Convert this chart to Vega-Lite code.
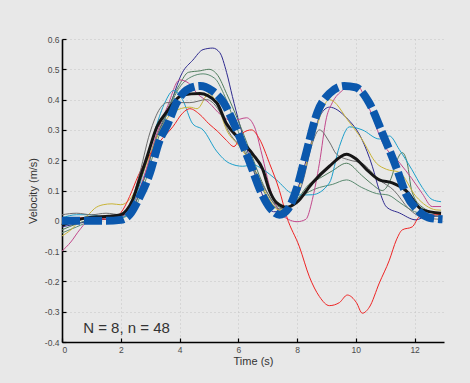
{
  "$schema": "https://vega.github.io/schema/vega-lite/v6.json",
  "autosize": {"type": "none"},
  "width": 382,
  "height": 303,
  "padding": {"left": 62, "top": 39, "right": 26, "bottom": 41},
  "background": "#e8e8e8",
  "config": {
    "view": {"stroke": null},
    "font": "Liberation Sans",
    "axis": {
      "domain": true,
      "domainColor": "#000000",
      "domainWidth": 1.6,
      "tickColor": "#000000",
      "tickWidth": 1.2,
      "tickSize": -4,
      "labelPadding": 7,
      "labelFontSize": 8.5,
      "labelColor": "#4a4a4a",
      "gridColor": "#c4c4c4",
      "gridDash": [1, 3],
      "gridWidth": 1,
      "titleFont": "Liberation Sans",
      "titleFontWeight": "normal",
      "titleFontSize": 11,
      "titleColor": "#333333"
    }
  },
  "datasets": {
    "subj": [
      {"s":"navy","t":0,"v":-0.02},{"s":"navy","t":0.5,"v":-0.01},{"s":"navy","t":1,"v":0.0},{"s":"navy","t":1.5,"v":0.005},{"s":"navy","t":2,"v":0.01},{"s":"navy","t":2.4,"v":0.04},{"s":"navy","t":2.8,"v":0.14},{"s":"navy","t":3.2,"v":0.27},{"s":"navy","t":3.6,"v":0.36},{"s":"navy","t":4.1,"v":0.49},{"s":"navy","t":4.45,"v":0.53},{"s":"navy","t":4.8,"v":0.565},{"s":"navy","t":5.13,"v":0.57},{"s":"navy","t":5.37,"v":0.555},{"s":"navy","t":5.6,"v":0.49},{"s":"navy","t":5.8,"v":0.41},{"s":"navy","t":6.04,"v":0.32},{"s":"navy","t":6.38,"v":0.21},{"s":"navy","t":6.8,"v":0.09},{"s":"navy","t":7.2,"v":0.03},{"s":"navy","t":7.6,"v":0.03},{"s":"navy","t":8.0,"v":0.1},{"s":"navy","t":8.4,"v":0.23},{"s":"navy","t":8.8,"v":0.35},{"s":"navy","t":9.1,"v":0.375},{"s":"navy","t":9.68,"v":0.34},{"s":"navy","t":10.2,"v":0.27},{"s":"navy","t":10.56,"v":0.18},{"s":"navy","t":10.8,"v":0.1},{"s":"navy","t":11.04,"v":0.046},{"s":"navy","t":11.48,"v":0.026},{"s":"navy","t":12.05,"v":0.003},{"s":"navy","t":12.4,"v":0.015},{"s":"navy","t":12.9,"v":0.015},

      {"s":"greenA","t":0,"v":-0.03},{"s":"greenA","t":0.5,"v":-0.01},{"s":"greenA","t":1,"v":0.005},{"s":"greenA","t":1.5,"v":0.01},{"s":"greenA","t":2,"v":0.015},{"s":"greenA","t":2.4,"v":0.04},{"s":"greenA","t":2.8,"v":0.14},{"s":"greenA","t":3.2,"v":0.27},{"s":"greenA","t":3.6,"v":0.37},{"s":"greenA","t":4.0,"v":0.45},{"s":"greenA","t":4.3,"v":0.49},{"s":"greenA","t":4.7,"v":0.495},{"s":"greenA","t":5.0,"v":0.5},{"s":"greenA","t":5.3,"v":0.48},{"s":"greenA","t":5.6,"v":0.42},{"s":"greenA","t":6.0,"v":0.33},{"s":"greenA","t":6.4,"v":0.23},{"s":"greenA","t":6.8,"v":0.13},{"s":"greenA","t":7.2,"v":0.06},{"s":"greenA","t":7.6,"v":0.04},{"s":"greenA","t":8.0,"v":0.07},{"s":"greenA","t":8.4,"v":0.12},{"s":"greenA","t":8.76,"v":0.14},{"s":"greenA","t":9.2,"v":0.165},{"s":"greenA","t":9.68,"v":0.19},{"s":"greenA","t":10.2,"v":0.15},{"s":"greenA","t":10.56,"v":0.12},{"s":"greenA","t":10.9,"v":0.1},{"s":"greenA","t":11.2,"v":0.14},{"s":"greenA","t":11.4,"v":0.2},{"s":"greenA","t":11.58,"v":0.225},{"s":"greenA","t":11.75,"v":0.19},{"s":"greenA","t":11.9,"v":0.1},{"s":"greenA","t":12.2,"v":0.05},{"s":"greenA","t":12.9,"v":0.02},

      {"s":"greenB","t":0,"v":-0.04},{"s":"greenB","t":0.5,"v":-0.02},{"s":"greenB","t":1,"v":0.0},{"s":"greenB","t":1.5,"v":0.01},{"s":"greenB","t":2,"v":0.01},{"s":"greenB","t":2.4,"v":0.03},{"s":"greenB","t":2.8,"v":0.12},{"s":"greenB","t":3.2,"v":0.25},{"s":"greenB","t":3.6,"v":0.36},{"s":"greenB","t":4.0,"v":0.44},{"s":"greenB","t":4.4,"v":0.475},{"s":"greenB","t":4.8,"v":0.485},{"s":"greenB","t":5.2,"v":0.47},{"s":"greenB","t":5.5,"v":0.42},{"s":"greenB","t":5.9,"v":0.32},{"s":"greenB","t":6.3,"v":0.22},{"s":"greenB","t":6.7,"v":0.13},{"s":"greenB","t":7.1,"v":0.06},{"s":"greenB","t":7.5,"v":0.035},{"s":"greenB","t":7.9,"v":0.06},{"s":"greenB","t":8.3,"v":0.09},{"s":"greenB","t":8.76,"v":0.11},{"s":"greenB","t":9.2,"v":0.12},{"s":"greenB","t":9.68,"v":0.135},{"s":"greenB","t":10.2,"v":0.11},{"s":"greenB","t":10.7,"v":0.09},{"s":"greenB","t":11.1,"v":0.085},{"s":"greenB","t":11.5,"v":0.06},{"s":"greenB","t":12.0,"v":0.03},{"s":"greenB","t":12.9,"v":0.015},

      {"s":"magenta","t":0,"v":-0.1},{"s":"magenta","t":0.3,"v":-0.07},{"s":"magenta","t":0.6,"v":-0.03},{"s":"magenta","t":0.9,"v":0.0},{"s":"magenta","t":1.5,"v":0.01},{"s":"magenta","t":2,"v":0.015},{"s":"magenta","t":2.4,"v":0.05},{"s":"magenta","t":2.8,"v":0.15},{"s":"magenta","t":3.2,"v":0.28},{"s":"magenta","t":3.6,"v":0.38},{"s":"magenta","t":4.0,"v":0.465},{"s":"magenta","t":4.3,"v":0.455},{"s":"magenta","t":4.6,"v":0.42},{"s":"magenta","t":5.0,"v":0.39},{"s":"magenta","t":5.4,"v":0.35},{"s":"magenta","t":5.8,"v":0.33},{"s":"magenta","t":6.28,"v":0.34},{"s":"magenta","t":6.55,"v":0.31},{"s":"magenta","t":6.8,"v":0.22},{"s":"magenta","t":7.1,"v":0.1},{"s":"magenta","t":7.4,"v":0.03},{"s":"magenta","t":7.7,"v":0.005},{"s":"magenta","t":8.0,"v":-0.003},{"s":"magenta","t":8.3,"v":0.005},{"s":"magenta","t":8.52,"v":0.07},{"s":"magenta","t":8.76,"v":0.19},{"s":"magenta","t":9.0,"v":0.34},{"s":"magenta","t":9.2,"v":0.39},{"s":"magenta","t":9.54,"v":0.43},{"s":"magenta","t":10.0,"v":0.45},{"s":"magenta","t":10.46,"v":0.37},{"s":"magenta","t":10.9,"v":0.26},{"s":"magenta","t":11.5,"v":0.19},{"s":"magenta","t":11.9,"v":0.14},{"s":"magenta","t":12.26,"v":0.09},{"s":"magenta","t":12.6,"v":0.047},{"s":"magenta","t":12.9,"v":0.047},

      {"s":"cyan","t":0,"v":0.01},{"s":"cyan","t":0.5,"v":0.02},{"s":"cyan","t":1,"v":0.02},{"s":"cyan","t":1.5,"v":0.01},{"s":"cyan","t":2,"v":0.01},{"s":"cyan","t":2.4,"v":0.05},{"s":"cyan","t":2.8,"v":0.17},{"s":"cyan","t":3.2,"v":0.31},{"s":"cyan","t":3.5,"v":0.39},{"s":"cyan","t":3.8,"v":0.43},{"s":"cyan","t":4.1,"v":0.4},{"s":"cyan","t":4.45,"v":0.32},{"s":"cyan","t":4.8,"v":0.3},{"s":"cyan","t":5.26,"v":0.23},{"s":"cyan","t":5.7,"v":0.19},{"s":"cyan","t":6.15,"v":0.18},{"s":"cyan","t":6.5,"v":0.185},{"s":"cyan","t":6.83,"v":0.17},{"s":"cyan","t":7.3,"v":0.135},{"s":"cyan","t":7.84,"v":0.09},{"s":"cyan","t":8.2,"v":0.085},{"s":"cyan","t":8.52,"v":0.086},{"s":"cyan","t":9.1,"v":0.125},{"s":"cyan","t":9.44,"v":0.245},{"s":"cyan","t":9.78,"v":0.31},{"s":"cyan","t":10.22,"v":0.3},{"s":"cyan","t":10.8,"v":0.27},{"s":"cyan","t":11.14,"v":0.28},{"s":"cyan","t":11.48,"v":0.235},{"s":"cyan","t":11.9,"v":0.17},{"s":"cyan","t":12.26,"v":0.11},{"s":"cyan","t":12.6,"v":0.07},{"s":"cyan","t":12.9,"v":0.063},

      {"s":"yellow","t":0,"v":-0.05},{"s":"yellow","t":0.3,"v":-0.03},{"s":"yellow","t":0.6,"v":0.0},{"s":"yellow","t":0.9,"v":0.02},{"s":"yellow","t":1.1,"v":0.04},{"s":"yellow","t":1.4,"v":0.053},{"s":"yellow","t":1.7,"v":0.056},{"s":"yellow","t":2.0,"v":0.053},{"s":"yellow","t":2.3,"v":0.07},{"s":"yellow","t":2.6,"v":0.12},{"s":"yellow","t":3.0,"v":0.22},{"s":"yellow","t":3.4,"v":0.31},{"s":"yellow","t":3.8,"v":0.36},{"s":"yellow","t":4.35,"v":0.375},{"s":"yellow","t":4.6,"v":0.37},{"s":"yellow","t":5.0,"v":0.42},{"s":"yellow","t":5.3,"v":0.38},{"s":"yellow","t":5.6,"v":0.3},{"s":"yellow","t":6.0,"v":0.25},{"s":"yellow","t":6.5,"v":0.18},{"s":"yellow","t":7.0,"v":0.08},{"s":"yellow","t":7.4,"v":0.035},{"s":"yellow","t":7.8,"v":0.05},{"s":"yellow","t":8.2,"v":0.15},{"s":"yellow","t":8.6,"v":0.29},{"s":"yellow","t":9.1,"v":0.4},{"s":"yellow","t":9.78,"v":0.325},{"s":"yellow","t":10.2,"v":0.27},{"s":"yellow","t":10.7,"v":0.19},{"s":"yellow","t":11.04,"v":0.17},{"s":"yellow","t":11.48,"v":0.16},{"s":"yellow","t":12.05,"v":0.08},{"s":"yellow","t":12.73,"v":0.036},{"s":"yellow","t":12.9,"v":0.035},

      {"s":"red","t":0,"v":0.0},{"s":"red","t":0.5,"v":0.01},{"s":"red","t":1,"v":0.01},{"s":"red","t":1.5,"v":0.005},{"s":"red","t":1.8,"v":0.01},{"s":"red","t":2.07,"v":0.036},{"s":"red","t":2.3,"v":0.08},{"s":"red","t":2.6,"v":0.15},{"s":"red","t":3.0,"v":0.22},{"s":"red","t":3.4,"v":0.27},{"s":"red","t":3.77,"v":0.31},{"s":"red","t":4.1,"v":0.355},{"s":"red","t":4.35,"v":0.37},{"s":"red","t":4.7,"v":0.35},{"s":"red","t":5.0,"v":0.32},{"s":"red","t":5.3,"v":0.295},{"s":"red","t":5.6,"v":0.265},{"s":"red","t":5.85,"v":0.245},{"s":"red","t":6.15,"v":0.29},{"s":"red","t":6.45,"v":0.3},{"s":"red","t":6.72,"v":0.27},{"s":"red","t":7.06,"v":0.19},{"s":"red","t":7.4,"v":0.1},{"s":"red","t":7.65,"v":0.013},{"s":"red","t":8.08,"v":-0.086},{"s":"red","t":8.42,"v":-0.185},{"s":"red","t":8.76,"v":-0.25},{"s":"red","t":9.1,"v":-0.28},{"s":"red","t":9.44,"v":-0.27},{"s":"red","t":9.71,"v":-0.245},{"s":"red","t":10.02,"v":-0.27},{"s":"red","t":10.22,"v":-0.305},{"s":"red","t":10.46,"v":-0.285},{"s":"red","t":10.8,"v":-0.205},{"s":"red","t":11.14,"v":-0.13},{"s":"red","t":11.38,"v":-0.063},{"s":"red","t":11.58,"v":-0.03},{"s":"red","t":11.92,"v":-0.02},{"s":"red","t":12.16,"v":0.013},{"s":"red","t":12.5,"v":0.02},{"s":"red","t":12.9,"v":0.02},

      {"s":"gray","t":0,"v":0.02},{"s":"gray","t":0.5,"v":0.025},{"s":"gray","t":1,"v":0.02},{"s":"gray","t":1.5,"v":0.025},{"s":"gray","t":2,"v":0.02},{"s":"gray","t":2.3,"v":0.05},{"s":"gray","t":2.6,"v":0.14},{"s":"gray","t":2.99,"v":0.29},{"s":"gray","t":3.33,"v":0.37},{"s":"gray","t":3.57,"v":0.39},{"s":"gray","t":4.0,"v":0.39},{"s":"gray","t":4.35,"v":0.39},{"s":"gray","t":4.92,"v":0.4},{"s":"gray","t":5.3,"v":0.37},{"s":"gray","t":5.7,"v":0.29},{"s":"gray","t":6.2,"v":0.23},{"s":"gray","t":6.6,"v":0.16},{"s":"gray","t":7.0,"v":0.09},{"s":"gray","t":7.4,"v":0.04},{"s":"gray","t":7.8,"v":0.05},{"s":"gray","t":8.2,"v":0.13},{"s":"gray","t":8.5,"v":0.25},{"s":"gray","t":8.76,"v":0.3},{"s":"gray","t":9.1,"v":0.26},{"s":"gray","t":9.34,"v":0.22},{"s":"gray","t":9.8,"v":0.2},{"s":"gray","t":10.2,"v":0.19},{"s":"gray","t":10.8,"v":0.135},{"s":"gray","t":11.3,"v":0.1},{"s":"gray","t":11.8,"v":0.04},{"s":"gray","t":12.3,"v":0.01},{"s":"gray","t":12.9,"v":0.005}
    ],
    "mean": [
      {"t":0,"v":-0.015},{"t":0.4,"v":0.0},{"t":1,"v":0.012},{"t":1.6,"v":0.015},{"t":2.0,"v":0.02},{"t":2.2,"v":0.035},{"t":2.41,"v":0.07},{"t":2.65,"v":0.14},{"t":2.89,"v":0.21},{"t":3.23,"v":0.31},{"t":3.57,"v":0.36},{"t":4.1,"v":0.415},{"t":4.69,"v":0.42},{"t":5.26,"v":0.39},{"t":5.6,"v":0.32},{"t":6.04,"v":0.27},{"t":6.49,"v":0.22},{"t":6.83,"v":0.17},{"t":7.06,"v":0.1},{"t":7.3,"v":0.06},{"t":7.64,"v":0.045},{"t":7.98,"v":0.06},{"t":8.52,"v":0.125},{"t":9.1,"v":0.18},{"t":9.68,"v":0.22},{"t":10.0,"v":0.205},{"t":10.36,"v":0.17},{"t":10.8,"v":0.135},{"t":11.24,"v":0.125},{"t":11.7,"v":0.1},{"t":12.26,"v":0.036},{"t":12.9,"v":0.025}
    ],
    "model": [
      {"t":0,"v":0.0},{"t":0.5,"v":0.0},{"t":1,"v":0.0},{"t":1.5,"v":0.0},{"t":2,"v":0.003},{"t":2.3,"v":0.02},{"t":2.6,"v":0.07},{"t":3.0,"v":0.16},{"t":3.3,"v":0.26},{"t":3.6,"v":0.32},{"t":3.9,"v":0.39},{"t":4.3,"v":0.435},{"t":4.7,"v":0.445},{"t":5.1,"v":0.43},{"t":5.5,"v":0.39},{"t":5.9,"v":0.31},{"t":6.4,"v":0.19},{"t":6.75,"v":0.1},{"t":7.1,"v":0.04},{"t":7.4,"v":0.02},{"t":7.7,"v":0.04},{"t":8.0,"v":0.11},{"t":8.3,"v":0.22},{"t":8.7,"v":0.36},{"t":9.1,"v":0.42},{"t":9.6,"v":0.445},{"t":10.0,"v":0.44},{"t":10.45,"v":0.39},{"t":10.9,"v":0.29},{"t":11.4,"v":0.17},{"t":11.7,"v":0.09},{"t":12.1,"v":0.035},{"t":12.5,"v":0.01},{"t":12.95,"v":0.005}
    ],
    "note": [{"t":0.72,"v":-0.355,"label":"N = 8, n = 48"}]
  },
  "encoding": {
    "x": {
      "field": "t", "type": "quantitative",
      "scale": {"domain": [0, 13], "nice": false, "zero": false},
      "axis": {"title": "Time (s)", "values": [0, 2, 4, 6, 8, 10, 12], "format": "d", "titlePadding": 2, "grid": true}
    },
    "y": {
      "field": "v", "type": "quantitative",
      "scale": {"domain": [-0.4, 0.6], "nice": false, "zero": false},
      "axis": {
        "title": "Velocity (m/s)",
        "values": [-0.4, -0.3, -0.2, -0.1, 0, 0.1, 0.2, 0.3, 0.4, 0.5, 0.6],
        "labelExpr": "abs(datum.value) < 0.0001 ? '0' : (datum.value < 0 ? '-' : '') + format(abs(datum.value), '.1f')",
        "titlePadding": 6,
        "grid": true
      }
    }
  },
  "layer": [
    {
      "data": {"name": "subj"},
      "mark": {"type": "line", "interpolate": "monotone", "strokeWidth": 1},
      "encoding": {
        "color": {
          "field": "s", "type": "nominal", "legend": null,
          "scale": {
            "domain": ["navy", "greenA", "greenB", "magenta", "cyan", "yellow", "red", "gray"],
            "range": ["#2f2b8f", "#4f7c5c", "#5a8a70", "#c2488c", "#1c9fcb", "#c9b437", "#ee2424", "#6e6e6e"]
          }
        }
      }
    },
    {
      "data": {"name": "mean"},
      "mark": {"type": "line", "interpolate": "monotone", "strokeWidth": 3, "color": "#161616"},
      "encoding": {}
    },
    {
      "data": {"name": "model"},
      "mark": {"type": "line", "interpolate": "monotone", "strokeWidth": 8, "color": "#0b58ad", "strokeDash": [18, 4], "strokeCap": "butt"},
      "encoding": {}
    },
    {
      "data": {"name": "note"},
      "mark": {"type": "text", "align": "left", "baseline": "middle", "fontSize": 15, "color": "#333333", "font": "Liberation Sans"},
      "encoding": {"text": {"field": "label"}}
    }
  ]
}
